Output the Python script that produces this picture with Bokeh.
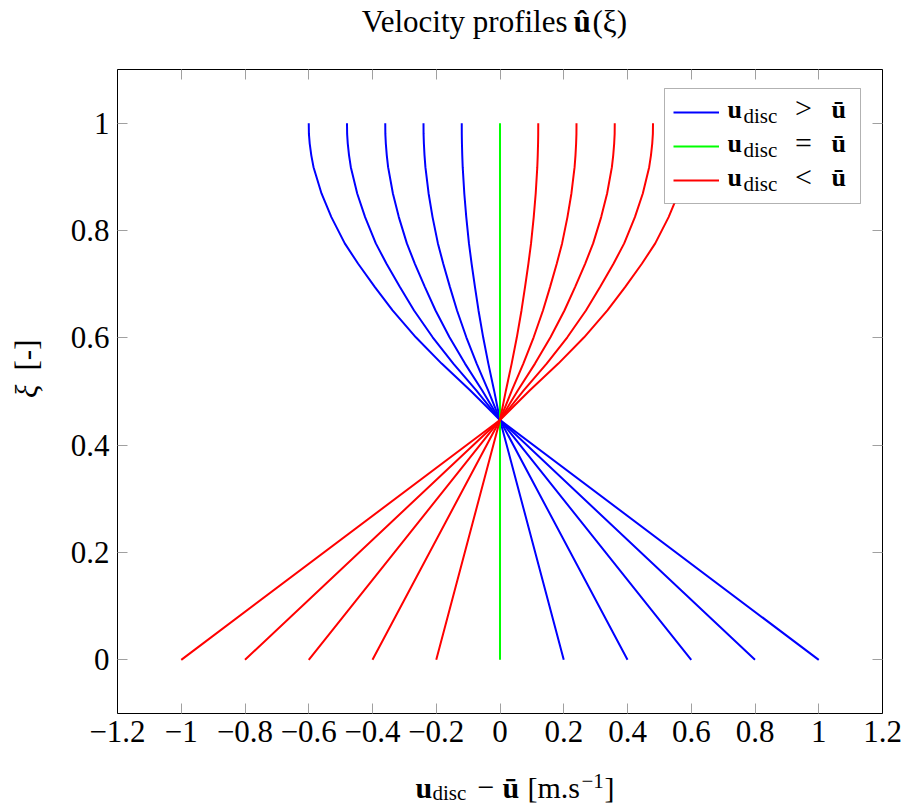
import math
from bokeh.plotting import figure
from bokeh.layouts import column, row
from bokeh.models import (Range1d, FixedTicker, LinearAxis, Legend, LegendItem,
                          Label, ColumnDataSource, CustomJSTickFormatter,
                          BoxAnnotation)
from bokeh.core.properties import value
from bokeh.embed import file_html
from bokeh.resources import INLINE

# ---------------- data ----------------
# base velocity profile (amplitude 1)
base_xi = [0.0, 0.447, 0.502, 0.552, 0.601, 0.651, 0.695, 0.738, 0.776,
           0.825, 0.869, 0.918, 0.940, 0.962, 0.980, 1.0]
base_u = [1.0, 0.0, -0.093, -0.183, -0.264, -0.337, -0.393, -0.445, -0.487,
          -0.529, -0.560, -0.585, -0.592, -0.597, -0.5995, -0.600]
blue_amplitudes = [0.2, 0.4, 0.6, 0.8, 1.0]
green_amplitudes = [0.0]
red_amplitudes = [-0.2, -0.4, -0.6, -0.8, -1.0]

x_ticks = [-1.2, -1.0, -0.8, -0.6, -0.4, -0.2, 0.0, 0.2, 0.4, 0.6, 0.8, 1.0, 1.2]
x_tick_labels = ["−1.2", "−1", "−0.8", "−0.6", "−0.4", "−0.2", "0",
                 "0.2", "0.4", "0.6", "0.8", "1", "1.2"]
y_ticks = [0.0, 0.2, 0.4, 0.6, 0.8, 1.0]
y_tick_labels = ["0", "0.2", "0.4", "0.6", "0.8", "1"]

# ---------------- layout (canvas pixels) ----------------
W, H = 907, 805
FL, FR, FT, FB = 117, 882, 69, 713
X0, X1, Y0, Y1 = -1.2, 1.2, -0.1, 1.1
FONT = "Liberation Serif"
BASE_K = 0.34       # label anchor correction (fraction of font size)

TOP_H = 59          # title strip
LEFT_W = 50         # y-label strip
BOT_H = 40          # x-label strip
MAIN_W = W - LEFT_W
MAIN_H = H - TOP_H - BOT_H


def dx(px):
    return X0 + (px - FL) / (FR - FL) * (X1 - X0)


def dy(py):
    return Y0 + (FB - py) / (FB - FT) * (Y1 - Y0)


def strip(w, h, x0, y0):
    f = figure(width=w, height=h, x_range=Range1d(x0, x0 + w),
               y_range=Range1d(y0 + h, y0), min_border=0,
               toolbar_location=None, output_backend="svg",
               x_axis_location=None, y_axis_location=None)
    f.grid.visible = False
    f.outline_line_color = None
    f.background_fill_color = "white"
    f.border_fill_color = "white"
    return f


top_fig = strip(W, TOP_H, 0, 0)
left_fig = strip(LEFT_W, MAIN_H, 0, TOP_H)
bot_fig = strip(W, BOT_H, 0, H - BOT_H)

p = figure(width=MAIN_W, height=MAIN_H, x_range=Range1d(X0, X1),
           y_range=Range1d(Y0, Y1), output_backend="svg", toolbar_location=None,
           min_border_left=FL - LEFT_W, min_border_right=W - FR,
           min_border_top=FT - TOP_H, min_border_bottom=(H - BOT_H) - FB)
p.grid.visible = False
p.outline_line_color = "black"
p.background_fill_color = "white"
p.border_fill_color = "white"


def fmt(ticks, labels):
    return CustomJSTickFormatter(args=dict(tv=ticks, tl=labels), code="""
        for (let i = 0; i < tv.length; i++) {
            if (Math.abs(tv[i] - tick) < 1e-9) { return tl[i]; }
        }
        return "";
    """)


def style_axis(ax, ticks, labels, show):
    ax.ticker = FixedTicker(ticks=ticks)
    ax.formatter = fmt(ticks, labels if show else [""] * len(ticks))
    ax.major_tick_in = 10
    ax.major_tick_out = 0
    ax.minor_tick_line_color = None
    ax.major_tick_line_color = "#a0a0a0"
    ax.major_tick_line_width = 1
    ax.axis_line_color = "black"
    ax.axis_line_width = 1
    ax.major_label_text_font = FONT
    ax.major_label_text_color = "black"
    ax.major_label_text_font_size = "31px" if show else "1px"
    ax.major_label_standoff = 7 if show else 1
    ax.axis_label = None


style_axis(p.xaxis[0], x_ticks, x_tick_labels, True)
style_axis(p.yaxis[0], y_ticks, y_tick_labels, True)
p.yaxis[0].major_label_standoff = 8

top_ax = LinearAxis()
style_axis(top_ax, x_ticks, x_tick_labels, False)
p.add_layout(top_ax, "above")
right_ax = LinearAxis()
style_axis(right_ax, y_ticks, y_tick_labels, False)
p.add_layout(right_ax, "right")

# ---------------- curves ----------------
def curve(amp):
    return ColumnDataSource(dict(x=[amp * u for u in base_u], y=base_xi))


blue_r = [p.line("x", "y", source=curve(a), line_color="#0000ff", line_width=2)
          for a in blue_amplitudes]
green_r = [p.line("x", "y", source=curve(a), line_color="#00ff00", line_width=2)
           for a in green_amplitudes]
red_r = [p.line("x", "y", source=curve(a), line_color="#ff0000", line_width=2)
         for a in red_amplitudes]

# ---------------- legend ----------------
# opaque white box with black border (drawn above the curves)
p.add_layout(BoxAnnotation(left=dx(664), right=dx(860), top=dy(88), bottom=dy(203),
                           fill_color="white", fill_alpha=1.0,
                           line_color="black", line_width=1, level="guide"))
legend = Legend(items=[LegendItem(label=value(""), renderers=[blue_r[0]]),
                       LegendItem(label=value(""), renderers=[green_r[0]]),
                       LegendItem(label=value(""), renderers=[red_r[0]])],
                location=(673 - FL, FB - 203 + 6), margin=0, padding=7, spacing=0,
                glyph_width=46, glyph_height=34, label_height=34, label_width=120,
                label_standoff=6, border_line_color=None,
                background_fill_alpha=0.0,
                label_text_font_size="1px")
p.add_layout(legend)


def put(fig, text, px, py, size, style="normal", align="left", rotated=False):
    if rotated:
        px -= BASE_K * size
    else:
        py -= BASE_K * size
    if fig is p:
        x, y = dx(px), dy(py)
    else:
        x, y = px, py
    fig.add_layout(Label(x=x, y=y, x_units="data", y_units="data",
                         text=text, text_font=FONT, text_font_size=f"{size}px",
                         text_font_style=style, text_align=align,
                         text_baseline="alphabetic", text_color="black",
                         angle=(math.pi / 2 if rotated else 0.0), level="overlay"))


# legend texts (inside main frame)
rels = [">", "=", "<"]
for i, rel in enumerate(rels):
    b = 117.5 + 34.2 * i
    put(p, "u", 727, b, 26, "bold")
    put(p, "disc", 743, b + 5, 21)
    put(p, rel, 803, b, 30, align="center")
    put(p, "ū", 831, b, 26, "bold")

# title (canvas pixel coordinates)
put(top_fig, "Velocity profiles", 567, 32, 31, align="right")
put(top_fig, "û", 573, 32, 31, "bold")
put(top_fig, "(ξ)", 592, 32, 31)

# x axis label
put(bot_fig, "u", 415, 797, 30, "bold")
put(bot_fig, "disc", 432, 800, 21)
put(bot_fig, "−", 477, 797, 30)
put(bot_fig, "ū", 502, 797, 30, "bold")
put(bot_fig, "[m.s", 527, 797, 30)
put(bot_fig, "−1", 581, 788, 21)
put(bot_fig, "]", 604, 797, 30)

# y axis label (rotated)
put(left_fig, "ξ", 37, 419, 31, "italic", rotated=True)
put(left_fig, "[-]", 37, 389, 31, rotated=True)

layout = column(top_fig, row(left_fig, p), bot_fig)
open("out.html", "w").write(file_html(layout, INLINE))
